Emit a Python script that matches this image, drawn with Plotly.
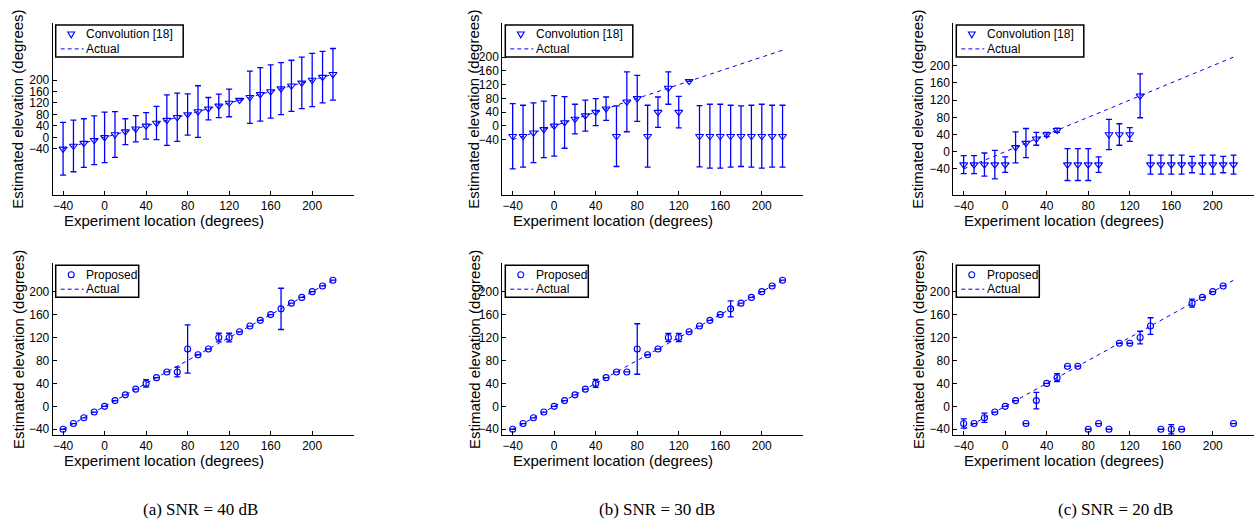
import plotly.graph_objects as go

W, H = 1258, 523

# ---------------- data ----------------
x_loc = [-40, -30, -20, -10, 0, 10, 20, 30, 40, 50, 60, 70, 80, 90, 100,
         110, 120, 130, 140, 150, 160, 170, 180, 190, 200, 210, 220]
actual = [-40, -30, -20, -10, 0, 10, 20, 30, 40, 50, 60, 70, 80, 90, 100,
          110, 120, 130, 140, 150, 160, 170, 180, 190, 200, 210, 220]

# Convolution [18]
conv40_est = [-40, -30, -20, -10, 0, 10, 20, 30, 40, 50, 60, 70, 80, 90, 100,
              110, 120, 130, 140, 150, 160, 170, 180, 190, 200, 210, 220]
conv40_err = [92, 90, 85, 85, 88, 80, 45, 46, 46, 58, 88, 84, 72, 90, 39,
              41, 48, 0, 91, 93, 93, 91, 89, 90, 93, 90, 90]

conv30_est = [-30, -30, -20, -10, 0, 10, 20, 30, 40, 50, -30, 70, 80, -30, 40,
              110, 40, 130, -30, -30, -30, -30, -30, -30, -30, -30, -30]
conv30_err = [95, 90, 87, 82, 88, 75, 43, 45, 39, 34, 88, 87, 67, 90, 44,
              47, 46, 0, 89, 93, 93, 90, 88, 90, 93, 90, 90]

conv20_est = [-30, -30, -30, -30, -30, 10, 20, 30, 40, 50, -30, -30, -30, -30, 40,
              40, 40, 130, -30, -30, -30, -30, -30, -30, -30, -30, -30]
conv20_err = [21, 21, 27, 33, 18, 36, 34, 15, 5, 5, 37, 37, 37, 18, 35,
              25, 16, 51, 22, 22, 22, 22, 19, 22, 22, 19, 22]

# Proposed
prop40_est = [-40, -30, -20, -10, 0, 10, 20, 30, 40, 50, 60, 60, 100, 90, 100,
              120, 120, 130, 140, 150, 160, 170, 180, 190, 200, 210, 220]
prop40_err = [0, 0, 0, 0, 0, 0, 0, 0, 6.5, 0, 0, 8.5, 42, 0, 0,
              7.5, 7.5, 0, 0, 0, 0, 36, 0, 0, 0, 0, 0]

prop30_est = [-40, -30, -20, -10, 0, 10, 20, 30, 40, 50, 60, 60, 100, 90, 100,
              120, 120, 130, 140, 150, 160, 170, 180, 190, 200, 210, 220]
prop30_err = [0, 0, 0, 0, 0, 0, 0, 0, 7, 0, 0, 0, 44, 0, 0,
              7, 7, 0, 0, 0, 0, 14, 0, 0, 0, 0, 0]

prop20_est = [-30, -30, -20, -10, 0, 10, -30, 10, 40, 50, 70, 70, -40, -30, -40,
              110, 110, 120, 140, -40, -40, -40, 180, 190, 200, 210, -30]
prop20_err = [8, 0, 8, 0, 0, 0, 0, 14.5, 0, 7, 0, 0, 0, 0, 0,
              0, 0, 11, 14.5, 0, 8, 0, 7, 0, 0, 0, 0]

y_ticks = [-40, 0, 40, 80, 120, 160, 200]
x_ticks = [-40, 0, 40, 80, 120, 160, 200]
captions = ["(a) SNR = 40 dB", "(b) SNR = 30 dB", "(c) SNR = 20 dB"]
x_title = "Experiment location (degrees)"
y_title = "Estimated elevation (degrees)"

panels = [
    dict(est=conv40_est, err=conv40_err, name="Convolution [18]", sym="triangle-down-open", yr=[-200, 400]),
    dict(est=conv30_est, err=conv30_err, name="Convolution [18]", sym="triangle-down-open", yr=[-200, 300]),
    dict(est=conv20_est, err=conv20_err, name="Convolution [18]", sym="triangle-down-open", yr=[-100, 300]),
    dict(est=prop40_est, err=prop40_err, name="Proposed", sym="circle-open", yr=[-50, 250]),
    dict(est=prop30_est, err=prop30_err, name="Proposed", sym="circle-open", yr=[-50, 250]),
    dict(est=prop20_est, err=prop20_err, name="Proposed", sym="circle-open", yr=[-50, 250]),
]

# ---------------- layout geometry (pixels) ----------------
col_left = [52.7, 502.3, 953.3]
plot_w = 301.0
row_top = [22.7, 263.0]
plot_h = 172.0
ytitle_x = [18, 474, 918]
cap_x = [200, 657, 1115]


def fx(px):
    return px / W


def fy(py):
    return 1 - py / H


FONT = "Liberation Sans, Arial, sans-serif"
SERIF = "Liberation Serif, Times New Roman, serif"
BLUE = "#0000ff"

fig = go.Figure()
layout = dict(
    width=W, height=H,
    margin=dict(l=0, r=0, t=0, b=0),
    paper_bgcolor="white", plot_bgcolor="white",
    font=dict(family=FONT, size=12, color="black"),
    showlegend=False,
)
annotations = []
shapes = []

for i, p in enumerate(panels):
    k = i + 1
    r, c = divmod(i, 3)
    xs = "" if k == 1 else str(k)
    xname, yname = "x" + xs, "y" + xs
    is_tri = "triangle" in p["sym"]

    fig.add_trace(go.Scatter(
        x=x_loc, y=p["est"], mode="markers", name=p["name"],
        marker=dict(symbol=p["sym"], size=7 if is_tri else 6,
                    color=BLUE, line=dict(width=1.1, color=BLUE)),
        error_y=dict(type="data", array=p["err"], visible=True, color=BLUE,
                     thickness=1.3, width=3),
        xaxis=xname, yaxis=yname, cliponaxis=False,
    ))
    fig.add_trace(go.Scatter(
        x=x_loc, y=actual, mode="lines", name="Actual",
        line=dict(color=BLUE, width=1, dash="4px,4px"),
        xaxis=xname, yaxis=yname,
    ))

    x0 = col_left[c]
    y0 = row_top[r]
    axis_common = dict(
        ticks="inside", ticklen=4, tickcolor="black",
        showline=True, linecolor="black", linewidth=1, showgrid=False,
        zeroline=False, tickfont=dict(size=12, family=FONT, color="black"),
    )
    layout["xaxis" + xs] = dict(
        domain=[fx(x0), fx(x0 + plot_w)], anchor=yname, range=[-50, 240],
        tickvals=x_ticks, **axis_common,
    )
    layout["yaxis" + xs] = dict(
        domain=[fy(y0 + plot_h), fy(y0)], anchor=xname, range=p["yr"],
        tickvals=y_ticks, **axis_common,
    )

    # axis titles
    annotations.append(dict(
        text=x_title, x=fx(x0 + 111), y=fy(y0 + plot_h + 25.5),
        xref="paper", yref="paper", showarrow=False, xanchor="center", yanchor="middle",
        font=dict(size=15, family=FONT, color="black"),
    ))
    annotations.append(dict(
        text=y_title, x=fx(ytitle_x[c]), y=fy(y0 + plot_h / 2 + 1),
        xref="paper", yref="paper", showarrow=False, xanchor="center", yanchor="middle",
        textangle=-90, font=dict(size=15, family=FONT, color="black"),
    ))

    # ---- legend box (MATLAB style) ----
    bx = x0 + 3
    by = y0 + 2.2
    bw = 127.5 if is_tri else 83
    bh = 32
    shapes.append(dict(type="rect", xref="paper", yref="paper",
                       x0=fx(bx), x1=fx(bx + bw), y0=fy(by + bh), y1=fy(by),
                       line=dict(color="black", width=1.5), fillcolor="white", layer="above"))
    cy1 = by + 9.5
    cy2 = by + 24
    mx = bx + 15.5
    if is_tri:
        path = "M {:.5f},{:.5f} L {:.5f},{:.5f} L {:.5f},{:.5f} Z".format(
            fx(mx - 3.4), fy(cy1 - 2.4), fx(mx + 3.4), fy(cy1 - 2.4), fx(mx), fy(cy1 + 3.4))
        shapes.append(dict(type="path", xref="paper", yref="paper", path=path,
                           line=dict(color=BLUE, width=1.1), layer="above"))
    else:
        shapes.append(dict(type="circle", xref="paper", yref="paper",
                           x0=fx(mx - 3), x1=fx(mx + 3), y0=fy(cy1 + 3), y1=fy(cy1 - 3),
                           line=dict(color=BLUE, width=1.1), layer="above"))
    shapes.append(dict(type="line", xref="paper", yref="paper",
                       x0=fx(bx + 5), x1=fx(bx + 28), y0=fy(cy2), y1=fy(cy2),
                       line=dict(color=BLUE, width=1, dash="4px,3px"), layer="above"))
    annotations.append(dict(
        text=p["name"], x=fx(bx + 28.5), y=fy(cy1), xref="paper", yref="paper",
        showarrow=False, xanchor="left", yanchor="middle",
        font=dict(size=12, family=FONT, color="black"),
    ))
    annotations.append(dict(
        text="Actual", x=fx(bx + 28.5), y=fy(cy2), xref="paper", yref="paper",
        showarrow=False, xanchor="left", yanchor="middle",
        font=dict(size=12, family=FONT, color="black"),
    ))

for c in range(3):
    annotations.append(dict(
        text=captions[c], x=fx(cap_x[c]), y=fy(509), xref="paper", yref="paper",
        showarrow=False, xanchor="center", yanchor="middle",
        font=dict(size=17, family=SERIF, color="black"),
    ))

layout["annotations"] = annotations
layout["shapes"] = shapes
fig.update_layout(**layout)
fig.write_html("out.html", config={"displayModeBar": False},
               post_script="document.body.style.margin='0px';")
